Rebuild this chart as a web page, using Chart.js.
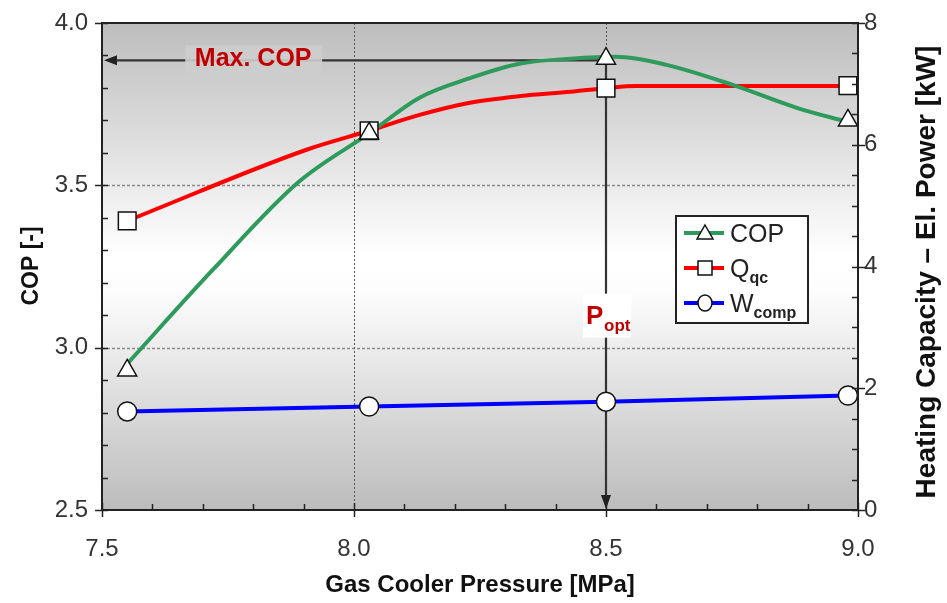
<!DOCTYPE html>
<html><head><meta charset="utf-8">
<script src="https://cdn.jsdelivr.net/npm/chart.js@4/dist/chart.umd.min.js"></script>
<style>html,body{margin:0;padding:0;background:#fff;}canvas{display:block;}</style>
</head><body>
<canvas id="c" width="947" height="603"></canvas>
<script>
// ---- data ----
const pressureMarkers = [7.55, 8.03, 8.50, 8.98];
const copMarkers = [2.93, 3.66, 3.89, 3.70];
const qMarkers = [4.75, 6.23, 6.93, 6.97];
const wMarkers = [1.62, 1.70, 1.78, 1.88];

// smooth fitted curves drawn through the markers
const copCurveP = [7.55, 7.72, 7.89, 8.03, 8.13, 8.23, 8.33, 8.43, 8.52, 8.62, 8.75, 8.88, 8.98];
const copCurveV = [2.95, 3.24, 3.51, 3.66, 3.77, 3.83, 3.875, 3.89, 3.896, 3.871, 3.81, 3.738, 3.695];
const qCurveP = [7.55, 7.91, 8.03, 8.13, 8.23, 8.33, 8.43, 8.50, 8.56, 8.98];
const qCurveV = [4.75, 5.93, 6.23, 6.49, 6.69, 6.80, 6.87, 6.93, 6.965, 6.965];

const xTicks = [7.5, 8.0, 8.5, 9.0];
const copTicks = [2.5, 3.0, 3.5, 4.0];
const powerTicks = [0, 2, 4, 6, 8];
const optPressure = 8.5;
const maxCop = 3.885;

const FONT = '"Liberation Sans", Arial, sans-serif';
const GREEN = '#2e9a5c', RED = '#ff0000', BLUE = '#0000ff';

function pts(xs, ys) { return xs.map((x, i) => ({ x: x, y: ys[i] })); }

const decor = {
  id: 'decor',
  beforeDraw(chart) {
    const { ctx, chartArea: a } = chart;
    ctx.save();
    const g = ctx.createLinearGradient(0, a.top, 0, a.bottom);
    g.addColorStop(0, '#bdbdbd');
    g.addColorStop(0.48, '#ffffff');
    g.addColorStop(0.55, '#fdfdfd');
    g.addColorStop(1, '#bcbcbc');
    ctx.fillStyle = g;
    ctx.fillRect(a.left, a.top, a.right - a.left, a.bottom - a.top);
    const x = chart.scales.x, y = chart.scales.y;
    ctx.strokeStyle = '#8a8a8a'; ctx.lineWidth = 1.5; ctx.setLineDash([3, 2]);
    [3.0, 3.5].forEach(v => {
      const py = Math.round(y.getPixelForValue(v)) + 0.5;
      ctx.beginPath(); ctx.moveTo(a.left, py); ctx.lineTo(a.right, py); ctx.stroke();
    });
    ctx.strokeStyle = '#555'; ctx.lineWidth = 1; ctx.setLineDash([2, 2]);
    [8.0, 8.5].forEach(v => {
      const px = Math.round(x.getPixelForValue(v)) + 0.5;
      ctx.beginPath(); ctx.moveTo(px, a.top); ctx.lineTo(px, a.bottom); ctx.stroke();
    });
    ctx.setLineDash([]);
    const yMax = y.getPixelForValue(maxCop);
    const xOpt = x.getPixelForValue(optPressure);
    ctx.strokeStyle = '#333'; ctx.fillStyle = '#222'; ctx.lineWidth = 2.2;
    ctx.beginPath(); ctx.moveTo(xOpt, yMax); ctx.lineTo(a.left + 12, yMax); ctx.stroke();
    ctx.beginPath(); ctx.moveTo(a.left + 2, yMax); ctx.lineTo(a.left + 15, yMax - 5); ctx.lineTo(a.left + 15, yMax + 5); ctx.closePath(); ctx.fill();
    ctx.beginPath(); ctx.moveTo(xOpt, yMax); ctx.lineTo(xOpt, a.bottom - 12); ctx.stroke();
    ctx.beginPath(); ctx.moveTo(xOpt, a.bottom - 1); ctx.lineTo(xOpt - 5, a.bottom - 15); ctx.lineTo(xOpt + 5, a.bottom - 15); ctx.closePath(); ctx.fill();
    const lx = x.getPixelForValue(7.80);
    ctx.fillStyle = 'rgba(205,205,205,0.9)';
    ctx.fillRect(lx - 68, yMax - 15, 137, 28);
    ctx.fillStyle = '#c00000';
    ctx.font = 'bold 25px ' + FONT;
    ctx.textAlign = 'center'; ctx.textBaseline = 'middle';
    ctx.fillText('Max. COP', lx, yMax - 1);
    const py = y.getPixelForValue(3.0);
    ctx.fillStyle = '#ffffff';
    ctx.fillRect(xOpt - 23, py - 54, 48, 44);
    ctx.fillStyle = '#c00000';
    ctx.textAlign = 'left'; ctx.textBaseline = 'alphabetic';
    ctx.font = 'bold 26px ' + FONT;
    ctx.fillText('P', xOpt - 20, py - 24);
    ctx.font = 'bold 17px ' + FONT;
    ctx.fillText('opt', xOpt - 2, py - 17);
    ctx.restore();
  },
  afterDraw(chart) {
    const { ctx, chartArea: a } = chart;
    const x = chart.scales.x, y = chart.scales.y, y2 = chart.scales.y2;
    ctx.save();
    ctx.strokeStyle = '#222'; ctx.lineWidth = 2;
    ctx.strokeRect(a.left, a.top, a.right - a.left, a.bottom - a.top);
    ctx.lineWidth = 1.5;
    for (let i = 0; i <= 15; i++) {
      const v = 7.5 + i * 0.1;
      const px = Math.round(x.getPixelForValue(v)) + 0.5;
      const major = i % 5 === 0;
      ctx.beginPath();
      ctx.moveTo(px, a.bottom + (major ? 7 : 0));
      ctx.lineTo(px, a.bottom - (major ? 7 : 6));
      ctx.stroke();
    }
    for (let i = 0; i <= 15; i++) {
      const v = 2.5 + i * 0.1;
      const py = Math.round(y.getPixelForValue(v)) + 0.5;
      const major = i % 5 === 0;
      ctx.beginPath();
      ctx.moveTo(a.left - (major ? 7 : 0), py);
      ctx.lineTo(a.left + 6, py);
      ctx.stroke();
    }
    for (let i = 0; i <= 16; i++) {
      const v = i * 0.5;
      const py = Math.round(y2.getPixelForValue(v)) + 0.5;
      const major = i % 4 === 0;
      ctx.beginPath();
      ctx.moveTo(a.right + (major ? 7 : 0), py);
      ctx.lineTo(a.right - 6, py);
      ctx.stroke();
    }
    ctx.fillStyle = '#111';
    ctx.textAlign = 'center'; ctx.textBaseline = 'middle';
    ctx.font = 'bold 24px ' + FONT;
    ctx.fillText('Gas Cooler Pressure [MPa]', (a.left + a.right) / 2, 585);
    ctx.save();
    ctx.translate(32, 266); ctx.rotate(-Math.PI / 2);
    ctx.font = 'bold 23px ' + FONT;
    ctx.fillText('COP [-]', 0, 0);
    ctx.restore();
    ctx.save();
    ctx.translate(927, 272); ctx.rotate(-Math.PI / 2);
    ctx.font = 'bold 28px ' + FONT;
    ctx.fillText('Heating Capacity \u2013 El. Power [kW]', 0, 0);
    ctx.restore();
    const bx = 676, by = 216, bw = 132, bh = 107;
    ctx.fillStyle = '#ffffff'; ctx.fillRect(bx, by, bw, bh);
    ctx.strokeStyle = '#222'; ctx.lineWidth = 2; ctx.strokeRect(bx, by, bw, bh);
    const items = [
      { c: GREEN, s: 'triangle', t: 'COP', sub: '' },
      { c: RED, s: 'rect', t: 'Q', sub: 'qc' },
      { c: BLUE, s: 'circle', t: 'W', sub: 'comp' }
    ];
    items.forEach((it, i) => {
      const cy = by + 17 + i * 35;
      ctx.strokeStyle = it.c; ctx.lineWidth = 4;
      ctx.beginPath(); ctx.moveTo(bx + 8, cy); ctx.lineTo(bx + 48, cy); ctx.stroke();
      ctx.fillStyle = '#ffffff'; ctx.strokeStyle = '#111'; ctx.lineWidth = 1.5;
      ctx.beginPath();
      if (it.s === 'triangle') { ctx.moveTo(bx + 29, cy - 8); ctx.lineTo(bx + 37, cy + 6); ctx.lineTo(bx + 21, cy + 6); ctx.closePath(); }
      else if (it.s === 'rect') { ctx.rect(bx + 22, cy - 7, 14, 14); }
      else { ctx.ellipse(bx + 29, cy, 7, 8, 0, 0, Math.PI * 2); }
      ctx.fill(); ctx.stroke();
      ctx.fillStyle = '#222'; ctx.textAlign = 'left'; ctx.textBaseline = 'alphabetic';
      ctx.font = '25px ' + FONT;
      ctx.fillText(it.t, bx + 54, cy + 9);
      if (it.sub) {
        const w = ctx.measureText(it.t).width;
        ctx.font = 'bold 16px ' + FONT;
        ctx.fillText(it.sub, bx + 54 + w, cy + 15);
      }
    });
    ctx.restore();
  }
};

function fixV(w) { return s => { s.width = w; s.paddingTop = 0; s.paddingBottom = 0; }; }

new Chart(document.getElementById('c'), {
  type: 'scatter',
  data: {
    datasets: [
      { label: 'COP', data: pts(pressureMarkers, copMarkers), yAxisID: 'y', showLine: false, order: 0,
        pointStyle: 'triangle', pointRadius: 11, pointBackgroundColor: '#fff', pointBorderColor: '#111', pointBorderWidth: 1.5 },
      { label: 'Qqc', data: pts(pressureMarkers, qMarkers), yAxisID: 'y2', showLine: false, order: 0,
        pointStyle: 'rect', pointRadius: 12.5, pointBackgroundColor: '#fff', pointBorderColor: '#111', pointBorderWidth: 1.5 },
      { label: 'Wcomp', data: pts(pressureMarkers, wMarkers), yAxisID: 'y2', showLine: true, order: 0,
        borderColor: BLUE, borderWidth: 4, tension: 0,
        pointStyle: 'circle', pointRadius: 9.5, pointBackgroundColor: '#fff', pointBorderColor: '#111', pointBorderWidth: 1.5 },
      { label: 'COP curve', data: pts(copCurveP, copCurveV), yAxisID: 'y', showLine: true, order: 1,
        borderColor: GREEN, borderWidth: 4, pointRadius: 0, cubicInterpolationMode: 'monotone' },
      { label: 'Q curve', data: pts(qCurveP, qCurveV), yAxisID: 'y2', showLine: true, order: 1,
        borderColor: RED, borderWidth: 4, pointRadius: 0, cubicInterpolationMode: 'monotone' }
    ]
  },
  options: {
    responsive: false, animation: false, devicePixelRatio: 1,
    layout: { padding: { top: 23, left: 0, right: 0, bottom: 0 } },
    plugins: { legend: { display: false }, tooltip: { enabled: false } },
    scales: {
      x: { type: 'linear', min: 7.5, max: 9.0,
        afterBuildTicks: s => { s.ticks = xTicks.map(v => ({ value: v })); },
        ticks: { callback: v => v.toFixed(1), font: { family: FONT, size: 24 }, color: '#333', padding: 25, maxRotation: 0 },
        grid: { display: false, drawTicks: false }, border: { display: false },
        afterFit: s => { s.height = 93; s.paddingLeft = 0; s.paddingRight = 0; } },
      y: { type: 'linear', position: 'left', min: 2.5, max: 4.0,
        afterBuildTicks: s => { s.ticks = copTicks.map(v => ({ value: v })); },
        ticks: { callback: v => v.toFixed(1), font: { family: FONT, size: 24 }, color: '#333', padding: 14 },
        grid: { display: false, drawTicks: false }, border: { display: false },
        afterFit: fixV(102) },
      y2: { type: 'linear', position: 'right', min: 0, max: 8,
        afterBuildTicks: s => { s.ticks = powerTicks.map(v => ({ value: v })); },
        ticks: { callback: v => String(v), font: { family: FONT, size: 24 }, color: '#333', padding: 6 },
        grid: { display: false, drawTicks: false }, border: { display: false },
        afterFit: fixV(89) }
    }
  },
  plugins: [decor]
});
</script>
</body></html>
